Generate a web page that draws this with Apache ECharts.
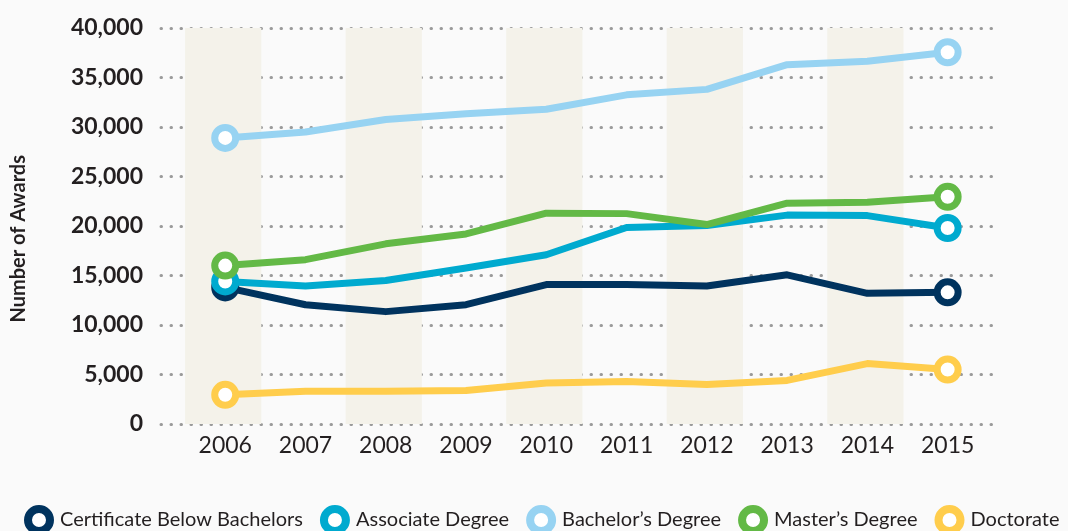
<!DOCTYPE html>
<html>
<head>
<meta charset="utf-8">
<script src="https://cdn.jsdelivr.net/npm/echarts@6/dist/echarts.min.js"></script>
<style>
html,body{margin:0;padding:0;background:#fafafa;}
#chart{width:1068px;height:531px;}
</style>
</head>
<body>
<div id="chart"></div>
<script>
var years = [2006, 2007, 2008, 2009, 2010, 2011, 2012, 2013, 2014, 2015];
var shadedYears = [2006, 2008, 2010, 2012, 2014];
var yTicks = [0, 5000, 10000, 15000, 20000, 25000, 30000, 35000, 40000];

var seriesNames = ['Certificate Below Bachelors', 'Associate Degree', "Bachelor\u2019s Degree", "Master\u2019s Degree", 'Doctorate'];
var certificate = [13800, 12050, 11350, 12050, 14080, 14080, 13940, 15070, 13200, 13300];
var associate   = [14400, 13940, 14500, 15750, 17100, 19850, 20050, 21100, 21050, 19800];
var bachelors   = [28900, 29500, 30750, 31350, 31800, 33250, 33800, 36300, 36650, 37550];
var masters     = [16000, 16600, 18200, 19200, 21300, 21250, 20150, 22300, 22400, 22950];
var doctorate   = [2950, 3300, 3300, 3380, 4150, 4300, 3980, 4400, 6100, 5500];

var colors = ['#00335e', '#00aacf', '#97d3f2', '#63b946', '#ffcd4c'];
var allValues = [certificate, associate, bachelors, masters, doctorate];

var FONT = 'Lato, "Noto Sans", sans-serif';
var TEXT = '#231f20';

function buildData(vals) {
  return vals.map(function (v, i) {
    var item = { value: [years[i], v] };
    if (i === 0 || i === vals.length - 1) {
      item.symbol = 'circle';
      item.symbolSize = 21;
    } else {
      item.symbol = 'none';
    }
    return item;
  });
}

var bandAreas = shadedYears.map(function (y) {
  return [{ xAxis: y - 0.5 }, { xAxis: y + 0.45 }];
});

var series = seriesNames.map(function (name, k) {
  var s = {
    name: name,
    type: 'line',
    data: buildData(allValues[k]),
    symbol: 'none',
    color: colors[k],
    lineStyle: { color: colors[k], width: 7, join: 'round' },
    itemStyle: { color: '#ffffff', borderColor: colors[k], borderWidth: 7 },
    emphasis: { disabled: true },
    z: 3 + k
  };
  if (k === 0) {
    s.markArea = {
      silent: true,
      itemStyle: { color: '#f4f2ea' },
      data: bandAreas,
      z: 1
    };
  }
  return s;
});

var chart = echarts.init(document.getElementById('chart'), null, { renderer: 'canvas' });
chart.setOption({
  backgroundColor: '#fafafa',
  animation: false,
  grid: { left: 161, right: 73, top: 28, bottom: 107 },
  xAxis: {
    type: 'value',
    min: 2005.2,
    max: 2015.59,
    axisLine: { show: false },
    axisTick: { show: false },
    splitLine: { show: false },
    axisLabel: {
      customValues: years,
      formatter: function (v) { return String(v); },
      fontFamily: FONT,
      fontSize: 23,
      color: TEXT,
      margin: 10
    }
  },
  yAxis: {
    type: 'value',
    min: 0,
    max: 40000,
    interval: 5000,
    axisLine: { show: false },
    axisTick: { show: false },
    splitLine: {
      show: true,
      lineStyle: { color: '#9a9a9a', width: 3, type: [0.5, 9.5], cap: 'round' }
    },
    axisLabel: {
      formatter: function (v) { return v.toLocaleString('en-US'); },
      fontFamily: FONT,
      fontWeight: 'bold',
      fontSize: 23,
      color: TEXT,
      margin: 18
    }
  },
  graphic: [{
    type: 'text',
    left: 9,
    top: 155,
    rotation: Math.PI / 2,
    style: {
      text: 'Number of Awards',
      font: 'bold 20px ' + FONT,
      fill: TEXT
    }
  }],
  legend: {
    left: 24,
    top: 505,
    width: 1044,
    padding: 0,
    icon: 'circle',
    itemWidth: 22,
    itemHeight: 22,
    itemGap: 17,
    selectedMode: false,
    textStyle: { fontFamily: FONT, fontSize: 20, color: TEXT, padding: [0, 0, 0, 5] },
    data: seriesNames.map(function (n, k) {
      return { name: n, itemStyle: { color: '#ffffff', borderColor: colors[k], borderWidth: 8 } };
    })
  },
  series: series
});
</script>
</body>
</html>
